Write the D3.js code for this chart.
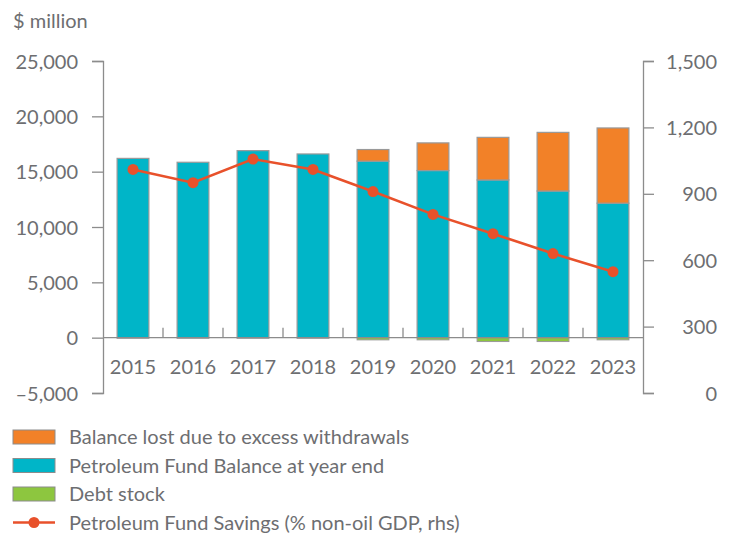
<!DOCTYPE html>
<html>
<head>
<meta charset="utf-8">
<script src="https://cdn.jsdelivr.net/npm/d3@7"></script>
<style>
    body { margin: 0; background: #fff; }
    text { font-family: Lato, "Open Sans", sans-serif; fill: #6d6e71; }
</style>
</head>
<body>
<div class="chart-wrap"></div>
<script>
var years = ["2015", "2016", "2017", "2018", "2019", "2020", "2021", "2022", "2023"];
var fundBalance = [16200, 15850, 16900, 16600, 15950, 15100, 14250, 13250, 12150];
var balanceLost = [0, 0, 0, 0, 1050, 2500, 3850, 5300, 6800];
var debtStock = [-50, -50, -50, -50, -200, -200, -350, -350, -200];
var savingsPct = [1010, 950, 1057, 1010, 910, 807, 720, 630, 548];
var leftTicks = [-5000, 0, 5000, 10000, 15000, 20000, 25000];
var rightTicks = [0, 300, 600, 900, 1200, 1500];
var legendLabels = ["Balance lost due to excess withdrawals", "Petroleum Fund Balance at year end", "Debt stock", "Petroleum Fund Savings (% non-oil GDP, rhs)"];

var w = 730, h = 533;
var mLeft = 103, mRight = 643, mTop = 61, mBottom = 393;
var colors = { lost: "#f28128", fund: "#00b5c8", debt: "#8dc63f", line: "#e8512b" };
var fs = "20px";

var svg = d3.select(".chart-wrap").append("svg")
    .attr("width", w)
    .attr("height", h);

var x = d3.scaleBand().domain(years).range([mLeft, mRight]).paddingInner(0.47).paddingOuter(0.235);
var band = d3.scaleBand().domain(years).range([mLeft, mRight]);
var y = d3.scaleLinear().domain([-5000, 25000]).range([mBottom, mTop]);
var y2 = d3.scaleLinear().domain([0, 1500]).range([mBottom, mTop]);

// left axis
var gl = svg.append("g").attr("transform", "translate(" + mLeft + ",0)")
    .call(d3.axisLeft(y).tickValues(leftTicks).tickSize(11).tickPadding(14).tickFormat(function (d) {
        return d < 0 ? "\u2013" + d3.format(",")(-d) : d3.format(",")(d);
    }));
gl.selectAll("text").style("font-size", fs).attr("dy", "0.35em");

// right axis
var gr = svg.append("g").attr("transform", "translate(" + mRight + ",0)")
    .call(d3.axisRight(y2).tickValues(rightTicks).tickSize(11).tickPadding(0).tickFormat(d3.format(",")));
gr.selectAll("text").style("font-size", fs).attr("dy", "0.35em").attr("text-anchor", "end").attr("x", 74);

svg.selectAll(".domain, .tick line").attr("stroke", "#8c8c8c").attr("stroke-width", 1.3);

// bars
var stroke = "#999";
svg.append("g").selectAll("rect").data(years).join("rect")
    .attr("x", function (d) { return x(d); })
    .attr("width", x.bandwidth())
    .attr("y", function (d, i) { return y(fundBalance[i]); })
    .attr("height", function (d, i) { return y(0) - y(fundBalance[i]); })
    .style("fill", colors.fund).style("stroke", stroke).style("stroke-width", 1.2);

var lostYears = years.filter(function (d, i) { return balanceLost[i] > 0; });
svg.append("g").selectAll("rect").data(lostYears).join("rect")
    .attr("x", function (d) { return x(d); })
    .attr("width", x.bandwidth())
    .attr("y", function (d) { var i = years.indexOf(d); return y(fundBalance[i] + balanceLost[i]); })
    .attr("height", function (d) { var i = years.indexOf(d); return y(fundBalance[i]) - y(fundBalance[i] + balanceLost[i]); })
    .style("fill", colors.lost).style("stroke", stroke).style("stroke-width", 1.2);

svg.append("g").selectAll("rect").data(years).join("rect")
    .attr("x", function (d) { return x(d); })
    .attr("width", x.bandwidth())
    .attr("y", y(0))
    .attr("height", function (d, i) { return y(debtStock[i]) - y(0); })
    .style("fill", function (d, i) { return debtStock[i] < -100 ? colors.debt : "#8c8c8c"; })
    .style("stroke", stroke).style("stroke-width", 1);

// x axis at zero
svg.append("line")
    .attr("x1", mLeft).attr("x2", mRight)
    .attr("y1", y(0)).attr("y2", y(0))
    .attr("stroke", "#8c8c8c").attr("stroke-width", 1.3);

svg.append("g").selectAll("line").data(years.slice(1)).join("line")
    .attr("x1", function (d) { return band(d); })
    .attr("x2", function (d) { return band(d); })
    .attr("y1", y(0) - 10).attr("y2", y(0))
    .attr("stroke", "#8c8c8c").attr("stroke-width", 1.3);

svg.append("g").selectAll("text").data(years).join("text")
    .attr("x", function (d) { return band(d) + band.bandwidth() / 2; })
    .attr("y", y(0) + 36)
    .attr("text-anchor", "middle")
    .style("font-size", fs)
    .text(function (d) { return d; });

// line
var line = d3.line()
    .x(function (d, i) { return band(years[i]) + band.bandwidth() / 2; })
    .y(function (d) { return y2(d); });

svg.append("path").datum(savingsPct)
    .attr("d", line)
    .attr("fill", "none")
    .attr("stroke", colors.line)
    .attr("stroke-width", 2.6);

svg.append("g").selectAll("circle").data(savingsPct).join("circle")
    .attr("cx", function (d, i) { return band(years[i]) + band.bandwidth() / 2; })
    .attr("cy", function (d) { return y2(d); })
    .attr("r", 5.5)
    .style("fill", colors.line);

svg.append("text").attr("x", 13).attr("y", 28).style("font-size", fs).text("$ million");

// legend
var lg = svg.append("g");
var swatches = [colors.lost, colors.fund, colors.debt];
legendLabels.forEach(function (label, i) {
    var cy = 437 + i * 28.5;
    if (i < 3) {
        lg.append("rect").attr("x", 13).attr("y", cy - 7).attr("width", 42).attr("height", 14)
            .style("fill", swatches[i]).style("stroke", "#8c8c8c").style("stroke-width", 1);
    } else {
        lg.append("line").attr("x1", 13).attr("x2", 55).attr("y1", cy).attr("y2", cy)
            .attr("stroke", colors.line).attr("stroke-width", 2.6);
        lg.append("circle").attr("cx", 34).attr("cy", cy).attr("r", 5.5).style("fill", colors.line);
    }
    lg.append("text").attr("x", 69).attr("y", cy).attr("dy", "0.35em")
        .style("font-size", fs).text(label);
});
</script>
</body>
</html>
